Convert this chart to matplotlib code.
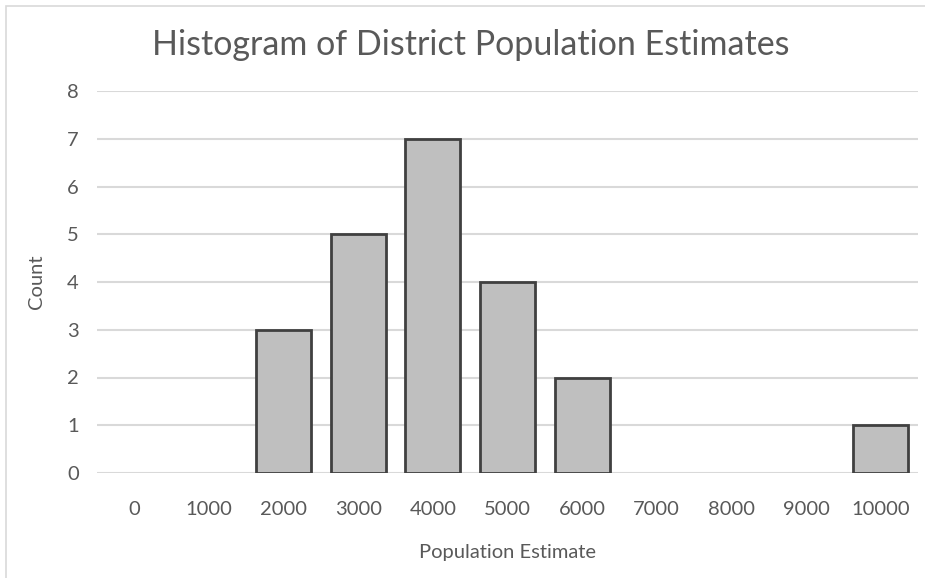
import matplotlib.pyplot as plt
from matplotlib.patches import Rectangle

# histogram bins (population estimate) and counts
bins = ["0", "1000", "2000", "3000", "4000", "5000", "6000", "7000", "8000", "9000", "10000"]
counts = [0, 0, 3, 5, 7, 4, 2, 0, 0, 0, 1]
y_ticks = [0, 1, 2, 3, 4, 5, 6, 7, 8]

plt.rcParams['font.family'] = ['Lato', 'DejaVu Sans']
text_col = '#595959'

W, H = 925, 578
fig = plt.figure(figsize=(W / 100, H / 100), dpi=100)
ax = fig.add_axes([97 / W, 1 - 473 / H, (918 - 97) / W, (473 - 91) / H])

# chart frame
fig.patches.append(Rectangle((6 / W, -0.1), 1.2, 1 - 6 / H + 0.1, transform=fig.transFigure,
                             fill=False, edgecolor='#d9d9d9', linewidth=1.2))

x = range(len(bins))
# empty bins get no outline
edges = ['#404040' if c > 0 else 'none' for c in counts]
ax.bar(x, counts, width=0.74, color='#bfbfbf', edgecolor=edges, linewidth=2.0, zorder=3)

ax.set_xlim(-0.5, len(bins) - 0.5)
ax.set_ylim(0, 8)
ax.set_yticks(y_ticks)
ax.set_xticks(list(x))
ax.set_xticklabels(bins)
ax.yaxis.grid(True, color='#d9d9d9', linewidth=1.5, zorder=0)
ax.set_axisbelow(True)
for s in ax.spines.values():
    s.set_visible(False)
ax.tick_params(axis='both', length=0, labelsize=14.5, colors=text_col)
ax.tick_params(axis='x', pad=20)
ax.tick_params(axis='y', pad=13)

ax.set_xlabel("Population Estimate", fontsize=14.5, color=text_col, labelpad=19)
ax.set_ylabel("Count", fontsize=14.5, color=text_col, labelpad=16)
fig.text(471 / W, 1 - 45 / H, "Histogram of District Population Estimates",
         ha='center', va='center', fontsize=24.5, color=text_col)

fig.savefig("out.png", dpi=100)
